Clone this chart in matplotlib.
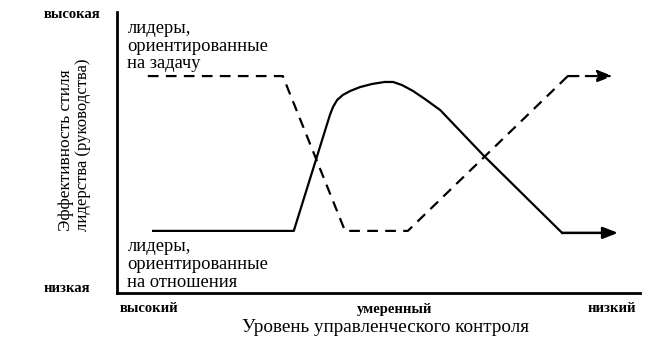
import matplotlib
matplotlib.use("Agg")
import matplotlib.pyplot as plt

plt.rcParams['font.family'] = ['Liberation Serif', 'DejaVu Serif']

# Task-oriented leaders (dashed)
task_x = [0.59, 3.17, 4.36, 5.56, 8.62, 9.48]
task_y = [7.72, 7.72, 2.21, 2.21, 7.72, 7.72]

# Relationship-oriented leaders (solid)
rel_x = [0.69, 3.38, 4.07, 4.13, 4.21, 4.32, 4.46, 4.65, 4.88, 5.12, 5.28, 5.45, 5.66, 5.89, 6.18, 7.00, 8.51, 9.58]
rel_y = [2.21, 2.21, 6.33, 6.62, 6.87, 7.05, 7.19, 7.33, 7.44, 7.51, 7.51, 7.40, 7.19, 6.90, 6.51, 4.91, 2.14, 2.14]

x_tick_labels = ["высокий", "умеренный", "низкий"]
y_tick_labels = ["высокая", "низкая"]

fig = plt.figure(figsize=(6.67, 3.40), dpi=100)
ax = fig.add_axes([117/667, 1-293/340, (640-117)/667, (293-12)/340])
ax.set_xlim(0, 10)
ax.set_ylim(0, 10)
for s in ['top', 'right']:
    ax.spines[s].set_visible(False)
for s in ['left', 'bottom']:
    ax.spines[s].set_linewidth(2)
ax.set_xticks([])
ax.set_yticks([])

dash = (0, (4.8, 3.3))
ax.plot(task_x[:-1], task_y[:-1], color='black', lw=1.6, linestyle=dash)
ax.annotate('', xy=(task_x[-1], task_y[-1]), xytext=(task_x[-2], task_y[-2]),
            arrowprops=dict(arrowstyle='-|>,head_length=0.9,head_width=0.35', color='black',
                            lw=1.6, linestyle=dash, shrinkA=0, shrinkB=0))
ax.plot(rel_x[:-1], rel_y[:-1], color='black', lw=1.6, solid_joinstyle='round')
ax.annotate('', xy=(rel_x[-1], rel_y[-1]), xytext=(rel_x[-2], rel_y[-2]),
            arrowprops=dict(arrowstyle='-|>,head_length=0.9,head_width=0.35', color='black',
                            lw=1.8, shrinkA=0, shrinkB=0))

ax.text(0.02, 0.97, "лидеры,\nориентированные\nна задачу", transform=ax.transAxes,
        ha='left', va='top', fontsize=13.3, linespacing=1.02)
ax.text(0.02, 0.195, "лидеры,\nориентированные\nна отношения", transform=ax.transAxes,
        ha='left', va='top', fontsize=13.3, linespacing=1.05)

# tick-like labels
fig.text(72/667, 1-15/340, y_tick_labels[0], ha='center', va='center', fontsize=10.5, weight='bold')
fig.text(67/667, 1-289/340, y_tick_labels[1], ha='center', va='center', fontsize=10.5, weight='bold')
fig.text(149/667, 1-309/340, x_tick_labels[0], ha='center', va='center', fontsize=10.5, weight='bold')
fig.text(395/667, 1-309/340, x_tick_labels[1], ha='center', va='center', fontsize=10.5, weight='bold')
fig.text(612/667, 1-309/340, x_tick_labels[2], ha='center', va='center', fontsize=10.5, weight='bold')

fig.text(386/667, 1-327/340, "Уровень управленческого контроля", ha='center', va='center', fontsize=13.8)
fig.text(66/667, 1-150/340, "Эффективность стиля", ha='center', va='center', rotation=90, fontsize=12.5)
fig.text(83/667, 1-145/340, "лидерства (руководства)", ha='center', va='center', rotation=90, fontsize=12)

fig.savefig("out.png", dpi=100)
